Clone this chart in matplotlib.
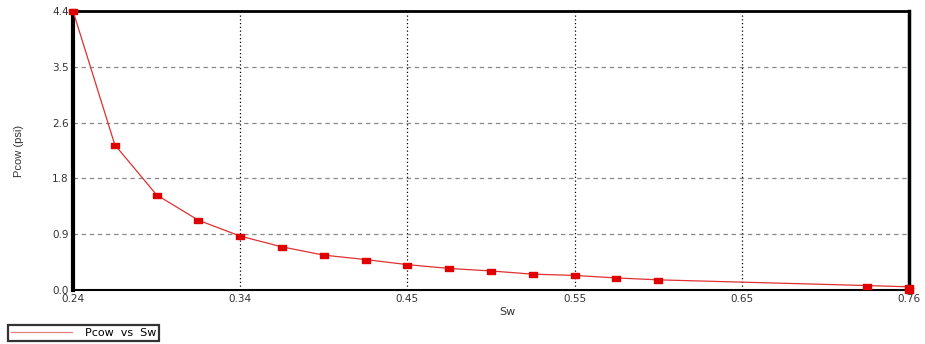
import matplotlib
matplotlib.use("Agg")
import matplotlib.pyplot as plt
import numpy as np

# capillary pressure curve points
sw = [0.24, 0.266, 0.292, 0.318, 0.344, 0.37, 0.396, 0.422, 0.448, 0.474,
      0.5, 0.526, 0.552, 0.578, 0.604, 0.734, 0.76, 0.76]
pcow = [4.4, 2.29, 1.50, 1.10, 0.85, 0.68, 0.55, 0.48, 0.40, 0.34,
        0.30, 0.25, 0.23, 0.19, 0.16, 0.07, 0.05, 0.0]

x_ticks = [0.24, 0.344, 0.448, 0.552, 0.656, 0.76]
x_labels = ["0.24", "0.34", "0.45", "0.55", "0.65", "0.76"]
y_ticks = [0.0, 0.88, 1.76, 2.64, 3.52, 4.4]
y_labels = ["0.0", "0.9", "1.8", "2.6", "3.5", "4.4"]

# flat rectangle marker
rect = [(-1, -0.6), (1, -0.6), (1, 0.6), (-1, 0.6), (-1, -0.6)]

fig = plt.figure(figsize=(9.25, 3.44), dpi=100)
ax = fig.add_axes([73/925, 1 - 290/344, 836/925, 279/344])

ax.plot(sw, pcow, color="#e03030", lw=0.9, marker=rect, markersize=6,
        markerfacecolor="#e00000", markeredgecolor="#e00000",
        label="Pcow  vs  Sw", clip_on=False, zorder=3)

ax.set_xlim(0.24, 0.76)
ax.set_ylim(0, 4.4)
ax.set_xticks(x_ticks)
ax.set_xticklabels(x_labels)
ax.set_yticks(y_ticks)
ax.set_yticklabels(y_labels)
ax.tick_params(length=0, labelsize=7.5, pad=3, labelcolor="#333333")

ax.xaxis.grid(True, color="black", linestyle=(0, (1, 2)), lw=0.9)
ax.yaxis.grid(True, color="#888888", linestyle=(0, (3.5, 3)), lw=0.9)

ax.spines["left"].set_linewidth(3)
ax.spines["right"].set_linewidth(2.5)
ax.spines["top"].set_linewidth(2)
ax.spines["bottom"].set_linewidth(1.5)

ax.set_xlabel("Sw", fontsize=8, labelpad=2, x=0.52, color="#333333")
ax.set_ylabel("Pcow (psi)", fontsize=8, labelpad=20, color="#333333",
              family="Liberation Sans")

# legend box below the plot
leg = fig.legend(loc="lower left", bbox_to_anchor=(8/925, 3/344),
                 fontsize=8, frameon=True, fancybox=False, shadow=False,
                 handlelength=5.5, borderpad=0.25, handletextpad=1.2,
                 borderaxespad=0)
leg.get_frame().set_edgecolor("black")
leg.get_frame().set_linewidth(1.6)
for h in leg.legend_handles:
    h.set_marker("")
    h.set_color("#e08080")

fig.savefig("out.png", dpi=100)
